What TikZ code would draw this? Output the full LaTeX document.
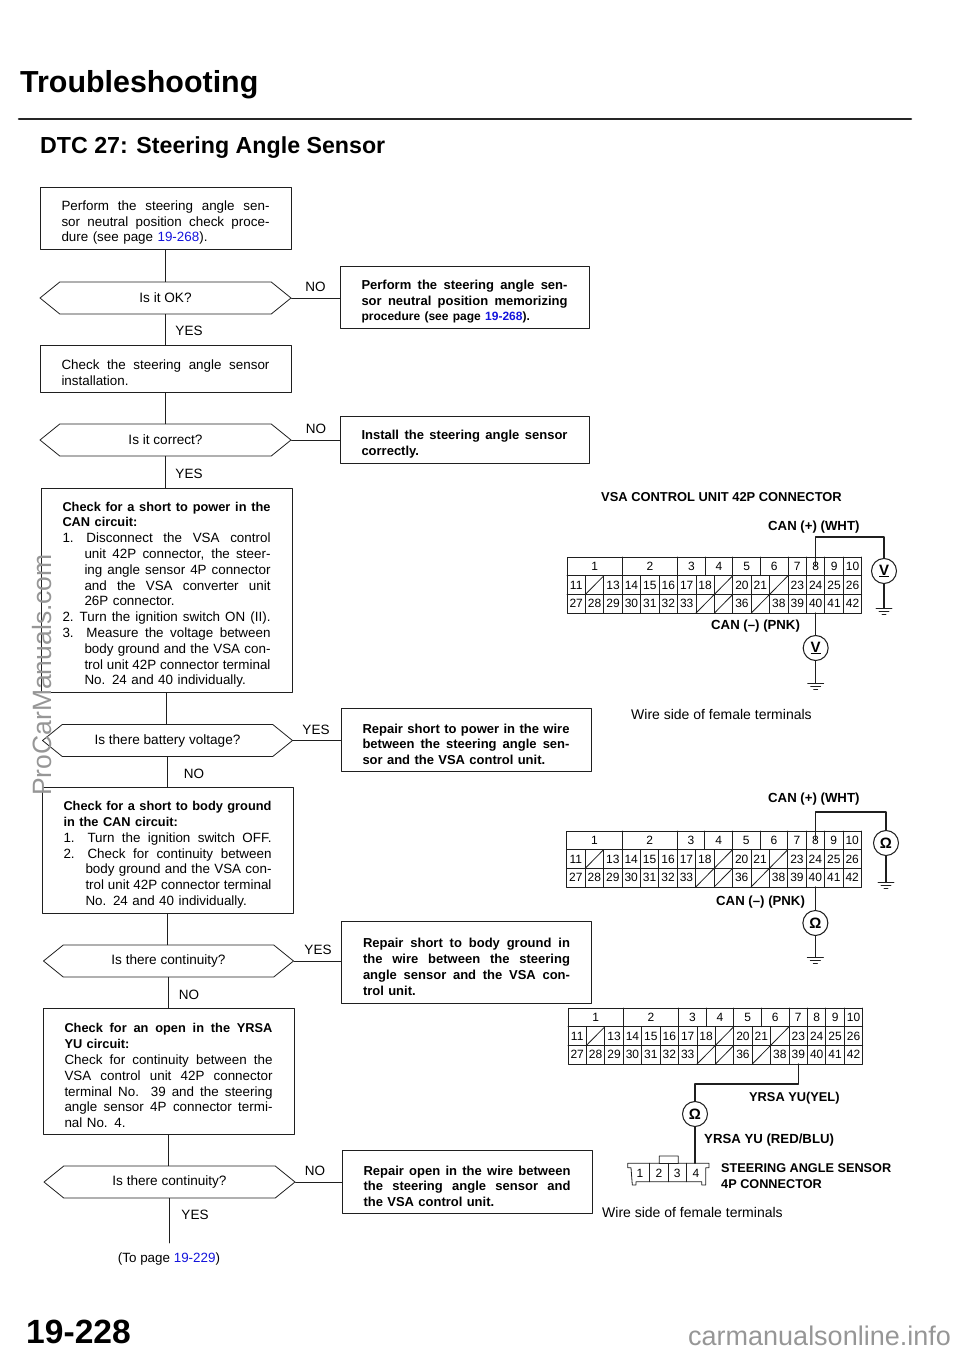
\documentclass[tikz,border=0pt]{standalone}
\usepackage{fontspec}
\setmainfont{Liberation Sans}
\usetikzlibrary{shapes.symbols}
\definecolor{linkblue}{RGB}{20,20,220}
\definecolor{markgray}{RGB}{150,150,150}
\newcommand{\jl}[2][0pt]{\hbox to \hsize{\spaceskip=0pt \xspaceskip=0pt \hskip#1 #2}}
\newcommand{\pl}[2][0pt]{\hbox{\hskip#1 #2}}
\newcommand{\itl}[2]{\jl{\hbox to 24pt{#1\hfil}#2}}
\newcommand{\bl}[1]{\jl{\fontsize{12.8}{15.8}\selectfont\bfseries #1}}
\newcommand{\bp}[1]{\pl{\fontsize{12.8}{15.8}\selectfont\bfseries #1}}
\newcommand{\lnk}[1]{\textcolor{linkblue}{#1}}
\newcommand{\pinrow}[3]{%
\foreach \n [count=\c from 0] in {#2} {
\ifnum\n=0
\draw[pinline] (\c*\cw,#1*\rh+\rh)--(\c*\cw+\cw,#1*\rh);
\else
\node[pinlabel] (#3p\n) at (\c*\cw+.5*\cw,#1*\rh+.5*\rh) {\n};
\fi}}
\newcommand{\pinblock}[3]{%
\begin{scope}[shift={(#1,#2)}]
\def\cw{18.42} \def\rh{18.7}
\draw[pinline] (0,0) rectangle (16*\cw,3*\rh);
\draw[pinline] (0,\rh)--(16*\cw,\rh) (0,2*\rh)--(16*\cw,2*\rh);
\foreach \k in {1,...,15}
\draw[pinline] (\k*\cw,\rh)--(\k*\cw,3*\rh);
\foreach \n/\a/\b in {1/0/3,2/3/6,3/6/7.5,4/7.5/9,5/9/10.5,6/10.5/12,7/12/13,8/13/14,9/14/15,10/15/16} {
\node[pinlabel] (#3t\n) at ({(\a+\b)/2*\cw},.5*\rh) {\n};
\draw[pinline] (\b*\cw,0)--(\b*\cw,\rh);
}
\pinrow{1}{11,0,13,14,15,16,17,18,0,20,21,0,23,24,25,26}{#3}
\pinrow{2}{27,28,29,30,31,32,33,0,0,36,0,38,39,40,41,42}{#3}
\end{scope}}
\newcommand{\gndmark}[1]{\draw[pinline] (#1) +(-8,0)--+(8,0) +(-5,3)--+(5,3) +(-2,6)--+(2,6);}
\tikzset{
mainline/.style={line width=.8pt,color=black!88},
wireline/.style={line width=1.05pt,color=black!88},
pinline/.style={line width=.8pt,color=black!88},
pinlabel/.style={inner sep=0pt,minimum width=18pt,minimum height=18pt,font=\fontsize{12}{14}\selectfont},
stepbox/.style={draw,mainline,text=black,inner xsep=21.5pt,inner ysep=0pt,text width=#1,align=left,font=\fontsize{13.4}{15.8}\selectfont,execute at begin node=\vskip 3pt},
askbox/.style={draw,mainline,text=black,signal,signal to=west and east,signal pointer angle=78,minimum width=251pt,minimum height=32pt,inner sep=0pt,font=\fontsize{13.6}{16}\selectfont},
fixbox/.style={stepbox=#1,font=\fontsize{13}{15.8}\selectfont\bfseries},
answer/.style={inner sep=0pt,yshift=-1pt,font=\fontsize{13.5}{16}\selectfont},
head/.style={inner sep=0pt,anchor=west,yshift=-1pt,font=\fontsize{13.2}{16}\selectfont\bfseries},
headsm/.style={head,font=\fontsize{12.8}{16}\selectfont\bfseries},
plain/.style={inner sep=0pt,anchor=west,yshift=-1pt,font=\fontsize{14}{16}\selectfont},
meter/.style={circle,draw,wireline,text=black,minimum size=25pt,inner sep=0pt,font=\fontsize{15}{16}\selectfont\bfseries},
}
\begin{document}
\begin{tikzpicture}[x=1pt,y=-1pt,line join=round,line cap=round]
\useasboundingbox (0,0) rectangle (960,1354);
\node[inner sep=0pt,anchor=west,font=\fontsize{30.4}{36}\selectfont\bfseries] (title) at (20,85) {Troubleshooting};
\draw[line width=2.6pt,color=black!85] (19,119)--(911,119);
\node[inner sep=0pt,anchor=west,font=\fontsize{23.2}{30}\selectfont\bfseries] (sub) at (40,148) {DTC 27: Steering Angle Sensor};
\node[stepbox=208pt,minimum height=62pt] (b1) at (165.5,218) {
\jl{Perform the steering angle sen-}
\jl{sor neutral position check proce-}
\pl{dure (see page \lnk{19-268}).}};
\node[askbox] (d1) at (165.5,298) {Is it OK?};
\node[stepbox=208pt,minimum height=47pt] (b2) at (165.5,368.5) {
\jl{Check the steering angle sensor}
\pl{installation.}};
\node[askbox] (d2) at (165.5,440) {Is it correct?};
\node[stepbox=208pt,minimum height=204pt] (b3) at (166.5,590) {
\bl{Check for a short to power in the}
\bp{CAN circuit:}
\itl{1.}{Disconnect the VSA control}
\jl[22pt]{unit 42P connector, the steer-}
\jl[22pt]{ing angle sensor 4P connector}
\jl[22pt]{and the VSA converter unit}
\pl[22pt]{26P connector.}
\jl{2.\hskip 6pt Turn the ignition switch ON (II).}
\itl{3.}{Measure the voltage between}
\jl[22pt]{body ground and the VSA con-}
\jl[22pt]{trol unit 42P connector terminal}
\pl[22pt]{No. 24 and 40 individually.}};
\node[askbox,minimum width=250pt] (d3) at (167.5,740.5) {Is there battery voltage?};
\node[stepbox=208pt,minimum height=126pt] (b4) at (167.5,850) {
\bl{Check for a short to body ground}
\bp{in the CAN circuit:}
\itl{1.}{Turn the ignition switch OFF.}
\itl{2.}{Check for continuity between}
\jl[22pt]{body ground and the VSA con-}
\jl[22pt]{trol unit 42P connector terminal}
\pl[22pt]{No. 24 and 40 individually.}};
\node[askbox,minimum width=250pt] (d4) at (168.5,961) {Is there continuity?};
\node[stepbox=208pt,minimum height=126pt] (b5) at (168.5,1071) {
\bl{Check for an open in the YRSA}
\bp{YU circuit:}
\jl{Check for continuity between the}
\jl{VSA control unit 42P connector}
\jl{terminal No. 39 and the steering}
\jl{angle sensor 4P connector termi-}
\pl{nal No. 4.}};
\node[askbox] (d5) at (169.5,1182) {Is there continuity?};
\coordinate (e1) at (169.5,1243);
\node[inner sep=0pt,font=\fontsize{13.4}{16}\selectfont] (next) at (169,1259) {(To page \lnk{19-229})};
\node[fixbox=206pt,minimum height=62pt] (r1) at (464.5,297) {
\jl{Perform the steering angle sen-}
\jl{sor neutral position memorizing}
\pl{\fontsize{12}{15.8}\selectfont procedure (see page \lnk{19-268}).}};
\node[fixbox=206pt,minimum height=47pt] (r2) at (464.5,439.5) {
\jl{Install the steering angle sensor}
\pl{correctly.}};
\node[fixbox=207pt,minimum height=63pt] (r3) at (466,739.5) {
\jl{Repair short to power in the wire}
\jl{between the steering angle sen-}
\pl{sor and the VSA control unit.}};
\node[fixbox=207pt,minimum height=82pt] (r4) at (466.5,962) {
\jl{Repair short to body ground in}
\jl{the wire between the steering}
\jl{angle sensor and the VSA con-}
\pl{trol unit.}};
\node[fixbox=207pt,minimum height=63pt] (r5) at (467,1181.5) {
\jl{Repair open in the wire between}
\jl{the steering angle sensor and}
\pl{the VSA control unit.}};
\draw[mainline] (b1.south)--(b1.south |- d1.north) (d1.south)--(d1.south |- b2.north);
\draw[mainline] (b2.south)--(b2.south |- d2.north) (d2.south)--(d2.south |- b3.north);
\draw[mainline] (b3.south)--(b3.south |- d3.north) (d3.south)--(d3.south |- b4.north);
\draw[mainline] (b4.south)--(b4.south |- d4.north) (d4.south)--(d4.south |- b5.north);
\draw[mainline] (b5.south)--(b5.south |- d5.north) (d5.south)--(e1);
\draw[mainline] (d1.east)--(d1.east -| r1.west);
\draw[mainline] (d2.east)--(d2.east -| r2.west);
\draw[mainline] (d3.east)--(d3.east -| r3.west);
\draw[mainline] (d4.east)--(d4.east -| r4.west);
\draw[mainline] (d5.east)--(d5.east -| r5.west);
\node[answer] (n1) at (315.5,286) {NO};
\node[answer] (y1) at (189,330) {YES};
\node[answer] (n2) at (316,428) {NO};
\node[answer] (y2) at (189,473) {YES};
\node[answer] (y3) at (316,729) {YES};
\node[answer] (n3) at (194,773) {NO};
\node[answer] (y4) at (318,949) {YES};
\node[answer] (n4) at (189,994) {NO};
\node[answer] (n5) at (315,1170) {NO};
\node[answer] (y5) at (195,1214) {YES};
\node[head,font=\fontsize{12.9}{16}\selectfont\bfseries] (hv) at (601,496) {VSA CONTROL UNIT 42P CONNECTOR};
\node[head] (cp1) at (768,526) {CAN (+) (WHT)};
\node[head] (cm1) at (711,625) {CAN (--) (PNK)};
\node[plain] (ws1) at (631,713) {Wire side of female terminals};
\pinblock{567}{557}{a}
\node[meter] (v1) at (884,571) {\underline{V}};
\node[meter] (v2) at (ap40.south |- 0,648) {\underline{V}};
\coordinate (a1) at (884,537);
\coordinate (g1) at (884,608);
\coordinate (g2) at (ap40.south |- 0,683);
\draw[wireline] (at8.center)|-(a1)--(v1.north);
\draw[wireline] (v1.south)--(g1);
\draw[wireline] (ap40.south)--(v2.north);
\draw[wireline] (v2.south)--(g2);
\gndmark{g1}
\gndmark{g2}
\node[head] (cp2) at (768,798) {CAN (+) (WHT)};
\node[head] (cm2) at (716,901) {CAN (--) (PNK)};
\pinblock{566.7}{831}{b}
\node[meter] (o1) at (886,843) {Ω};
\node[meter] (o2) at (bp40.south |- 0,923) {Ω};
\coordinate (a2) at (886,812);
\coordinate (g3) at (886,882);
\coordinate (g4) at (bp40.south |- 0,957);
\draw[wireline] (bt8.center)|-(a2)--(o1.north);
\draw[wireline] (o1.south)--(g3);
\draw[wireline] (bp40.south)--(o2.north);
\draw[wireline] (o2.south)--(g4);
\gndmark{g3}
\gndmark{g4}
\pinblock{568}{1008}{c}
\node[meter] (o3) at (695,1114) {Ω};
\coordinate (a3) at (695,1084);
\coordinate (s4) at (695,1163.3);
\draw[wireline] (cp39.south)|-(a3)--(o3.north);
\draw[wireline] (o3.south)--(s4);
\node[headsm] (yy) at (749,1097) {YRSA YU(YEL)};
\node[head] (yr) at (704,1139) {YRSA YU (RED/BLU)};
\draw[pinline] (627.7,1163.3)--(659.3,1163.3)--(659.3,1156)--(678.3,1156)--(678.3,1163.3)--(709,1163.3)--(709,1167.7)--(705.7,1167.7)--(705.7,1185)--(701.7,1185)--(701.7,1181.7)--(636,1181.7)--(636,1185)--(632.3,1185)--(631,1167.7)--(627.7,1167.7)--cycle;
\draw[pinline] (659.3,1163.3)--(678.3,1163.3);
\foreach \k in {649.7,668.3,686.7}
\draw[pinline] (\k,1163.3)--(\k,1181.7);
\foreach \n/\k in {1/640,2/659,3/677.3,4/696}
\node[pinlabel,minimum width=0pt] (s\n) at (\k,1173) {\n};
\node[headsm,font=\fontsize{12.7}{16}\selectfont\bfseries] (sa) at (721,1167) {STEERING ANGLE SENSOR};
\node[headsm,font=\fontsize{12.7}{16}\selectfont\bfseries] (sb) at (721,1183) {4P CONNECTOR};
\node[plain] (ws2) at (602,1211) {Wire side of female terminals};
\node[inner sep=0pt,anchor=west,font=\fontsize{33.6}{36}\selectfont\bfseries] (page) at (26,1332) {19-228};
\node[inner sep=0pt,rotate=90,text=markgray,font=\fontsize{26.5}{30}\selectfont] (wm1) at (42,675) {ProCarManuals.com};
\node[inner sep=0pt,anchor=west,text=markgray,font=\fontsize{27}{30}\selectfont] (wm2) at (688,1336) {carmanualsonline.info};
\end{tikzpicture}
\end{document}
